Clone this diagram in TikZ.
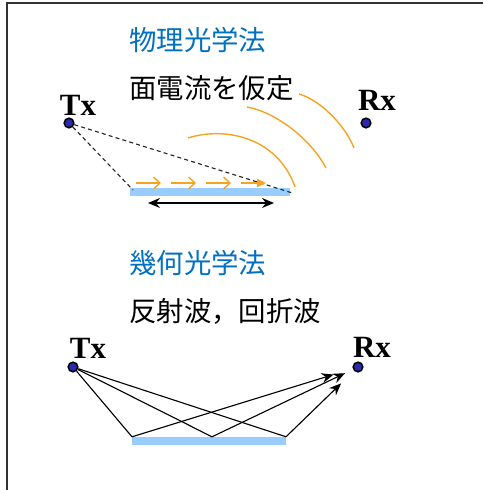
\documentclass[tikz,border=0pt]{standalone}
\usepackage{fontspec}
\setmainfont{Liberation Serif}
\newfontfamily\jpfont{Noto Sans CJK JP}
\usetikzlibrary{arrows.meta}
\definecolor{FrameInk}{gray}{0.2}
\definecolor{MethodBlue}{HTML}{0070C0}
\definecolor{PlateBlue}{HTML}{99CCFF}
\definecolor{WaveOrange}{HTML}{F5A422}
\definecolor{DotBlue}{HTML}{2A2AB0}
\tikzset{
  diagram/.style={>={Stealth[length=3mm,width=2.5mm,inset=1mm]}},
  heading/.style={font=\jpfont\fontsize{19.5}{23}\selectfont,text=MethodBlue,anchor=west,inner sep=0pt},
  caption/.style={font=\jpfont\fontsize{19.5}{23}\selectfont,anchor=west,inner sep=0pt},
  antenna/.style={circle,draw=black,fill=DotBlue,line width=1.1pt,minimum size=2.4mm,inner sep=0pt},
  antennaname/.style={font=\bfseries\fontsize{22}{26}\selectfont,inner sep=0pt},
  plate/.style={draw=PlateBlue,line width=0.19cm},
  sightline/.style={dashed,dash pattern=on 1mm off 0.8mm,line width=0.8pt,draw=black!85},
  current/.style={draw=WaveOrange,line width=1pt},
  wave/.style={draw=WaveOrange,line width=1pt},
  ray/.style={line width=0.8pt},
}

\begin{document}
\begin{tikzpicture}[diagram]
  \useasboundingbox (0,0) rectangle (12.075,12.25);
  \draw[FrameInk,line width=1.4pt] (0.175,0) |- (12.075,12.175);

  % physical optics
  \node[heading] (poTitle) at (3.225,11.25) {物理光学法};
  \node[caption] (poNote) at (3.225,10.05) {面電流を仮定};

  \node[antenna] (txA) at (1.725,9.175) {};
  \node[antennaname] at (1.95,9.625) {Tx};
  \node[antenna] (rxA) at (9.15,9.175) {};
  \node[antennaname] at (9.425,9.75) {Rx};

  \coordinate (plateAL) at (3.25,7.45);
  \coordinate (plateAR) at (7.25,7.45);
  \draw[plate] (plateAL) -- (plateAR);
  \draw[sightline] (txA) -- (3.325,7.5);
  \draw[sightline] (txA) -- (7.325,7.42);

  \draw[current,-{Straight Barb[length=1.6mm,width=3mm]}] (3.4,7.675) -- (4.025,7.675);
  \draw[current,-{Straight Barb[length=1.6mm,width=3mm]}] (4.275,7.675) -- (4.9,7.675);
  \draw[current,-{Straight Barb[length=1.6mm,width=3mm]}] (5.15,7.675) -- (5.775,7.675);
  \draw[current,-{Triangle[length=2.2mm,width=2mm]}] (6.025,7.675) -- (6.65,7.675);

  \draw[<->,line width=0.9pt] (3.7,7.175) -- (6.85,7.175);

  \draw[wave] (4.7,8.8) .. controls (5.65,9.1) and (6.95,8.8) .. (7.375,7.575);
  \draw[wave] (6.175,9.575) .. controls (6.875,9.45) and (7.75,8.8) .. (8.15,8.05);
  \draw[wave] (7.475,9.9) .. controls (8.0,9.75) and (8.625,9.125) .. (8.85,8.55);

  % geometrical optics
  \node[heading] (goTitle) at (3.225,5.675) {幾何光学法};
  \node[caption] (goNote) at (3.225,4.475) {反射波，回折波};

  \node[antenna] (txB) at (1.825,3.075) {};
  \node[antennaname] at (2.2,3.55) {Tx};
  \node[antenna] (rxB) at (8.95,3.075) {};
  \node[antennaname] at (9.3,3.575) {Rx};

  \draw[plate] (3.3,1.225) -- (7.15,1.225);
  \coordinate (hitL) at (3.3,1.33);
  \coordinate (hitM) at (5.3,1.33);
  \coordinate (hitR) at (7.15,1.33);

  \draw[ray] (txB) -- (hitL);
  \draw[ray] (txB) -- (hitM);
  \draw[ray] (txB) -- (hitR);
  \draw[ray,->,shorten >=0.5cm] (hitL) -- (rxB);
  \draw[ray,->,shorten >=0.22cm] (hitM) -- (rxB);
  \draw[ray,->,shorten >=0.45cm] (hitR) -- (rxB);
\end{tikzpicture}
\end{document}
